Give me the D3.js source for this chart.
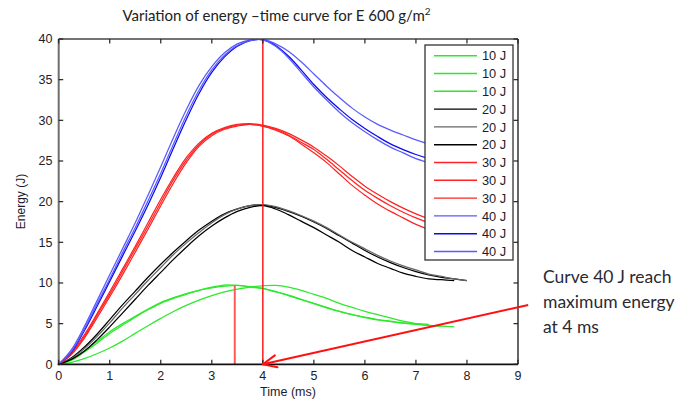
<!DOCTYPE html>
<html>
<head>
<meta charset="utf-8">
<script src="https://cdn.jsdelivr.net/npm/d3@7"></script>
<style>
  html, body { margin: 0; padding: 0; background: #fff; }
  svg { display: block; }
</style>
</head>
<body>
<svg id="chart" width="688" height="403"></svg>
<script>
// Sampling instants (ms) shared by every energy trace
const timeMs = [0, 0.25, 0.5, 0.75, 1, 1.25, 1.5, 1.75, 2, 2.25, 2.5, 2.75, 3, 3.25, 3.5, 3.75,
                4, 4.25, 4.5, 4.75, 5, 5.25, 5.5, 5.75, 6, 6.25, 6.5, 6.75, 7, 7.25, 7.5, 7.75, 8];

// Absorbed energy (J) per trace; null where the recording has ended
const e10a = [0, 0.6, 1.6, 2.8, 4.0, 5.0, 5.9, 6.8, 7.6, 8.2, 8.7, 9.1, 9.5, 9.75, 9.7, 9.5,
              9.3, 8.9, 8.5, 8.0, 7.5, 7.0, 6.5, 6.1, 5.8, 5.5, 5.3, 5.1, 5.0, 4.9, null, null, null];
const e10b = [0, 0.5, 1.5, 2.6, 3.8, 4.8, 5.8, 6.7, 7.5, 8.1, 8.6, 9.1, 9.4, 9.6, 9.7, 9.55,
              9.35, 8.95, 8.45, 7.95, 7.45, 6.95, 6.5, 6.1, 5.75, 5.45, 5.25, 5.05, 4.9, 4.8, 4.7, 4.6, null];
const e10c = [0, 0.25, 0.7, 1.3, 2.0, 2.85, 3.8, 4.75, 5.65, 6.5, 7.25, 7.9, 8.45, 8.9, 9.25, 9.5,
              9.65, 9.7, 9.5, 9.1, 8.6, 8.1, 7.5, 7.0, 6.5, 6.1, 5.7, 5.3, 5.0, 4.8, 4.7, null, null];

const e20a = [0, 0.8, 2.1, 3.7, 5.5, 7.3, 9.0, 10.7, 12.3, 13.8, 15.2, 16.5, 17.6, 18.5, 19.1, 19.5,
              19.6, 19.3, 18.8, 18.2, 17.5, 16.7, 15.8, 14.9, 14.0, 13.2, 12.5, 11.9, 11.4, 11.0, 10.7, 10.5, 10.3];
const e20b = [0, 0.7, 1.9, 3.4, 5.1, 6.9, 8.6, 10.3, 11.9, 13.5, 14.9, 16.2, 17.4, 18.4, 19.1, 19.5,
              19.6, 19.4, 18.9, 18.3, 17.6, 16.8, 15.9, 15.0, 14.2, 13.4, 12.7, 12.1, 11.6, 11.1, 10.8, 10.5, 10.3];
const e20c = [0, 0.6, 1.6, 3.0, 4.6, 6.3, 8.0, 9.7, 11.3, 12.9, 14.4, 15.8, 17.0, 18.0, 18.8, 19.3,
              19.5, 19.1, 18.4, 17.6, 16.8, 15.9, 15.0, 14.0, 13.2, 12.4, 11.8, 11.2, 10.8, 10.5, 10.4, 10.3, null];

const e30a = [0, 1.4, 3.6, 6.2, 8.9, 11.7, 14.5, 17.4, 20.3, 23.0, 25.4, 27.2, 28.4, 29.1, 29.5, 29.6,
              29.4, 29.0, 28.4, 27.6, 26.7, 25.6, 24.4, 23.1, 21.9, 20.9, 20.0, 19.2, 18.5, 17.9, 17.4, 17.0, 16.7];
const e30b = [0, 1.2, 3.2, 5.7, 8.3, 11.0, 13.8, 16.6, 19.5, 22.3, 24.8, 26.8, 28.1, 28.9, 29.3, 29.5,
              29.3, 28.8, 28.1, 27.1, 26.0, 24.8, 23.4, 22.0, 20.8, 19.7, 18.8, 18.0, 17.2, 16.6, 16.1, 15.7, 15.4];
const e30c = [0, 1.3, 3.4, 6.0, 8.6, 11.4, 14.2, 17.0, 19.9, 22.7, 25.1, 27.0, 28.3, 29.0, 29.4, 29.5,
              29.3, 28.9, 28.2, 27.3, 26.4, 25.2, 23.9, 22.6, 21.4, 20.4, 19.5, 18.7, 18.0, 17.4, 16.9, 16.5, 16.2];

const e40a = [0, 1.8, 4.6, 7.8, 11.0, 14.2, 17.4, 20.8, 24.3, 27.9, 31.3, 34.3, 36.6, 38.3, 39.4, 39.9,
              40.0, 39.4, 38.5, 37.2, 35.7, 34.2, 32.8, 31.5, 30.4, 29.5, 28.8, 28.2, 27.6, 27.1, 26.7, 26.3, 26.0];
const e40b = [0, 1.5, 4.1, 7.1, 10.2, 13.3, 16.4, 19.6, 23.0, 26.6, 30.1, 33.3, 35.9, 37.8, 39.1, 39.8,
              39.9, 39.2, 37.9, 36.2, 34.4, 32.8, 31.4, 30.1, 29.0, 28.0, 27.1, 26.4, 25.8, 25.3, 24.9, 24.6, 24.3];
const e40c = [0, 1.6, 4.3, 7.4, 10.5, 13.7, 16.8, 20.1, 23.5, 27.1, 30.6, 33.7, 36.2, 38.0, 39.2, 39.8,
              39.9, 39.1, 37.7, 35.9, 34.1, 32.5, 31.0, 29.7, 28.6, 27.6, 26.7, 26.0, 25.3, 24.8, 24.4, 24.1, 23.8];

// Legend labels and trace colours, in plotting order
const seriesLabels = ["10 J", "10 J", "10 J", "20 J", "20 J", "20 J", "30 J", "30 J", "30 J", "40 J", "40 J", "40 J"];
const seriesColors = ["#2ee82e", "#2ee82e", "#2ee82e", "#000000", "#666666", "#000000",
                      "#ff2424", "#ff2424", "#ff2424", "#5a5aff", "#0a0aee", "#5a5aff"];
const seriesValues = [e10a, e10b, e10c, e20a, e20b, e20c, e30a, e30b, e30c, e40a, e40b, e40c];

// Axis ticks
const xTicks = [0, 1, 2, 3, 4, 5, 6, 7, 8, 9];
const yTicks = [0, 5, 10, 15, 20, 25, 30, 35, 40];

// Marker lines: time of peak and peak energy
const peak40Time = 4, peak40Energy = 40;
const peak10Time = 3.45, peak10Energy = 9.7;
// Callout arrow tail (data units, right of the axes)
const arrowTail = [9.2, 7.3];

const titleText = "Variation of energy \u2013time curve for E 600 g/m";
const noteLines = ["Curve 40 J reach", "maximum energy", "at 4 ms"];

const svg = d3.select("#chart");
const W = 688, H = 403;
const plot = { left: 58.7, right: 518, top: 39, bottom: 364.3 };

const x = d3.scaleLinear().domain([0, 9]).range([plot.left, plot.right]);
const y = d3.scaleLinear().domain([0, 40]).range([plot.bottom, plot.top]);

svg.append("rect").attr("width", W).attr("height", H).attr("fill", "#fff");

svg.append("defs").append("clipPath").attr("id", "plotClip")
  .append("rect")
  .attr("x", plot.left).attr("y", plot.top)
  .attr("width", plot.right - plot.left).attr("height", plot.bottom - plot.top);

// Title
svg.append("text")
  .attr("x", 276.5).attr("y", 20.5)
  .attr("text-anchor", "middle")
  .attr("font-family", "Lato, 'Open Sans', sans-serif")
  .attr("font-size", 15)
  .attr("fill", "#222")
  .text(titleText)
  .append("tspan").attr("font-size", 10).attr("dy", -5.5).text("2");

// Traces
const line = d3.line()
  .defined(d => d[1] !== null)
  .x(d => x(d[0])).y(d => y(d[1]))
  .curve(d3.curveCatmullRom.alpha(0.5));

const traces = svg.append("g").attr("clip-path", "url(#plotClip)");
seriesValues.forEach((vals, i) => {
  traces.append("path")
    .attr("d", line(timeMs.map((t, k) => [t, vals[k]])))
    .attr("fill", "none")
    .attr("stroke", seriesColors[i])
    .attr("stroke-width", 1.25)
    .attr("stroke-linejoin", "round");
});

// Peak marker lines
svg.append("line")
  .attr("x1", x(peak40Time)).attr("x2", x(peak40Time))
  .attr("y1", y(0)).attr("y2", y(peak40Energy))
  .attr("stroke", "#ff1a1a").attr("stroke-width", 1.5);
svg.append("line")
  .attr("x1", x(peak10Time)).attr("x2", x(peak10Time))
  .attr("y1", y(0)).attr("y2", y(peak10Energy))
  .attr("stroke", "#ff5a5a").attr("stroke-width", 2);

// Axes frame
const axisFont = "'Liberation Sans', Arial, sans-serif";
const frame = svg.append("g");
frame.append("line").attr("x1", plot.left).attr("x2", plot.right).attr("y1", plot.top).attr("y2", plot.top)
  .attr("stroke", "#444").attr("stroke-width", 1.3);
frame.append("line").attr("x1", plot.right).attr("x2", plot.right).attr("y1", plot.top).attr("y2", plot.bottom)
  .attr("stroke", "#333").attr("stroke-width", 1.5);
frame.append("line").attr("x1", plot.left).attr("x2", plot.left).attr("y1", plot.top).attr("y2", plot.bottom + 1)
  .attr("stroke", "#6e6e6e").attr("stroke-width", 2);
frame.append("line").attr("x1", plot.left - 1).attr("x2", plot.right).attr("y1", plot.bottom).attr("y2", plot.bottom)
  .attr("stroke", "#111").attr("stroke-width", 1.8);

// Inward ticks on all four sides
const tickLen = 4.5;
xTicks.forEach(t => {
  frame.append("line").attr("x1", x(t)).attr("x2", x(t)).attr("y1", plot.bottom).attr("y2", plot.bottom - tickLen)
    .attr("stroke", "#222").attr("stroke-width", 1.2);
  frame.append("line").attr("x1", x(t)).attr("x2", x(t)).attr("y1", plot.top).attr("y2", plot.top + tickLen)
    .attr("stroke", "#222").attr("stroke-width", 1.2);
});
yTicks.forEach(v => {
  frame.append("line").attr("x1", plot.left).attr("x2", plot.left + tickLen).attr("y1", y(v)).attr("y2", y(v))
    .attr("stroke", "#222").attr("stroke-width", 1.2);
  frame.append("line").attr("x1", plot.right).attr("x2", plot.right - tickLen).attr("y1", y(v)).attr("y2", y(v))
    .attr("stroke", "#222").attr("stroke-width", 1.2);
});

// Tick labels
svg.append("g").selectAll("text").data(xTicks).join("text")
  .attr("x", d => x(d)).attr("y", 380)
  .attr("text-anchor", "middle")
  .attr("font-family", axisFont).attr("font-size", 12.5).attr("fill", "#1c1c2c")
  .text(d => d);
svg.append("g").selectAll("text").data(yTicks).join("text")
  .attr("x", 52.5).attr("y", d => y(d) + 4.4)
  .attr("text-anchor", "end")
  .attr("font-family", axisFont).attr("font-size", 12.5).attr("fill", "#1c1c2c")
  .text(d => d);

// Axis titles
svg.append("text")
  .attr("x", 288).attr("y", 396)
  .attr("text-anchor", "middle")
  .attr("font-family", axisFont).attr("font-size", 12.5).attr("fill", "#1c1c2c")
  .text("Time (ms)");
svg.append("text")
  .attr("transform", "translate(25,201.5) rotate(-90)")
  .attr("text-anchor", "middle")
  .attr("font-family", axisFont).attr("font-size", 12).attr("fill", "#1c1c2c")
  .text("Energy (J)");

// Legend
const legend = svg.append("g");
legend.append("rect")
  .attr("x", 425).attr("y", 45).attr("width", 88).attr("height", 215)
  .attr("fill", "#fff").attr("stroke", "#333").attr("stroke-width", 1.3);
seriesLabels.forEach((lab, i) => {
  const ly = 55.7 + i * 17.8;
  legend.append("line").attr("x1", 434).attr("x2", 477).attr("y1", ly).attr("y2", ly)
    .attr("stroke", seriesColors[i]).attr("stroke-width", 1.4);
  legend.append("text").attr("x", 482).attr("y", ly + 4.6)
    .attr("font-family", axisFont).attr("font-size", 12.8).attr("fill", "#1c1c2c")
    .text(lab);
});

// Callout arrow pointing at the 40 J peak time on the time axis
const tip = [x(peak40Time), y(0)];
const tail = [x(arrowTail[0]), y(arrowTail[1])];
svg.append("line")
  .attr("x1", tail[0]).attr("y1", tail[1]).attr("x2", tip[0]).attr("y2", tip[1])
  .attr("stroke", "#ff1010").attr("stroke-width", 2);
const ang = Math.atan2(tail[1] - tip[1], tail[0] - tip[0]);
const barb = 15, spread = 0.42;
[ang - spread, ang + spread].forEach(a => {
  svg.append("line")
    .attr("x1", tip[0]).attr("y1", tip[1])
    .attr("x2", tip[0] + barb * Math.cos(a)).attr("y2", tip[1] + barb * Math.sin(a))
    .attr("stroke", "#ff1010").attr("stroke-width", 2).attr("stroke-linecap", "round");
});

// Callout text
svg.append("g").selectAll("text").data(noteLines).join("text")
  .attr("x", 543).attr("y", (d, i) => 282.7 + i * 25)
  .attr("font-family", "Lato, 'Open Sans', sans-serif")
  .attr("font-size", 17.5).attr("fill", "#2a2a33")
  .text(d => d);
</script>
</body>
</html>
